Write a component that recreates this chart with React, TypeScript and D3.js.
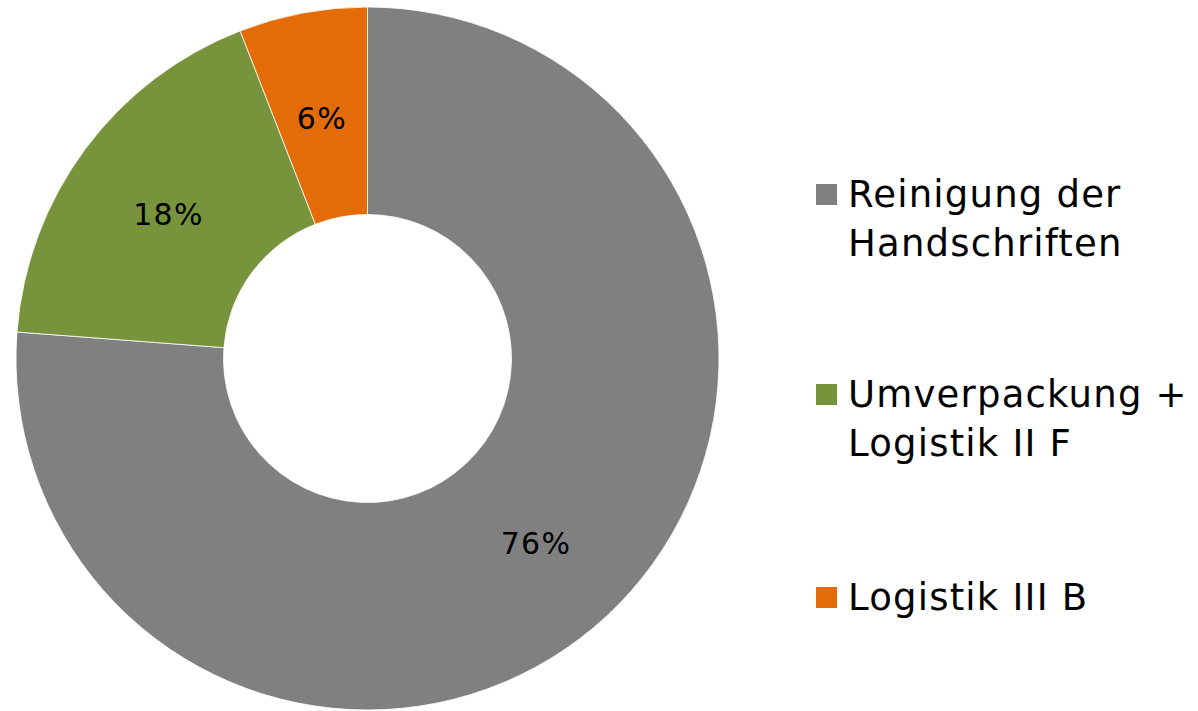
import React from "react";
import * as d3 from "d3";

const categories: string[][] = [
  ["Reinigung der", "Handschriften"],
  ["Umverpackung +", "Logistik II F"],
  ["Logistik III B"],
];
const values: number[] = [76.2, 17.9, 5.9];
const labels: string[] = ["76%", "18%", "6%"];
const colors: string[] = ["#808080", "#77933C", "#E36C09"];

const W = 1198;
const H = 711;
const cx = 367.5;
const cy = 358.5;
const outerR = 351.5;
const innerR = 144;

export default function App() {
  const pie = d3
    .pie<number>()
    .sort(null)
    .value((d) => d)
    .startAngle(0)
    .endAngle(2 * Math.PI);
  const arcs = pie(values);
  const arc = d3.arc<d3.PieArcDatum<number>>().innerRadius(innerR).outerRadius(outerR);
  const midR = (innerR + outerR) / 2;
  const labelArc = d3.arc<d3.PieArcDatum<number>>().innerRadius(midR).outerRadius(midR);

  const legendBaselines = [207, 407, 610];
  const lineGap = 49;
  const font = "'DejaVu Sans', Verdana, sans-serif";

  return (
    <svg
      width={W}
      height={H}
      style={{ position: "absolute", left: 0, top: 0, background: "#fff" }}
    >
      <g transform={`translate(${cx},${cy})`}>
        {arcs.map((a, i) => (
          <path key={i} d={arc(a) || ""} fill={colors[i]} stroke="#fff" strokeWidth={0.8} />
        ))}
        {arcs.map((a, i) => {
          const [x, y] = labelArc.centroid(a);
          return (
            <text
              key={"l" + i}
              x={x}
              y={y + 3}
              textAnchor="middle"
              dominantBaseline="central"
              fontFamily={font}
              fontSize={30}
              letterSpacing={1.2}
              fill="#000"
            >
              {labels[i]}
            </text>
          );
        })}
      </g>
      {categories.map((lines, i) => (
        <g key={"g" + i}>
          <rect x={816} y={legendBaselines[i] - 23} width={21} height={21} fill={colors[i]} />
          {lines.map((t, j) => (
            <text
              key={j}
              x={848}
              y={legendBaselines[i] + j * lineGap}
              fontFamily={font}
              fontSize={37}
              letterSpacing={1.2}
              fill="#000"
            >
              {t}
            </text>
          ))}
        </g>
      ))}
    </svg>
  );
}
